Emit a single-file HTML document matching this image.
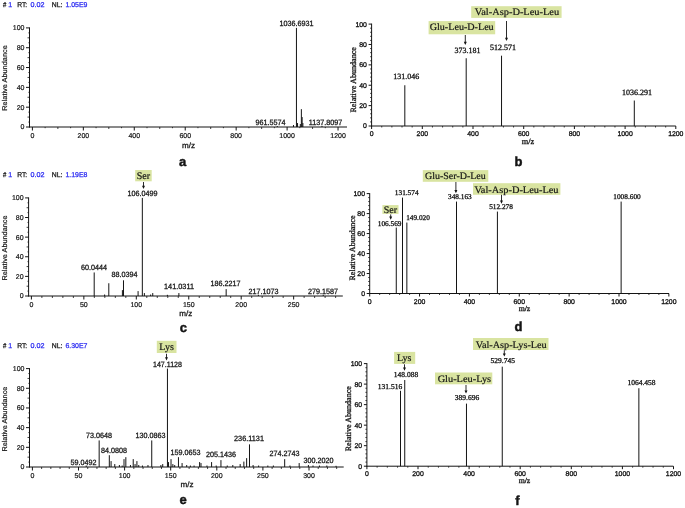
<!DOCTYPE html>
<html><head><meta charset="utf-8"><title>Mass spectra</title>
<style>
html,body{margin:0;padding:0;background:#fff;}
svg{display:block;text-rendering:geometricPrecision;}
.sans{font-family:"Liberation Sans", sans-serif;}
.serif{font-family:"Liberation Serif", serif;}
</style></head><body>
<svg width="685" height="508" viewBox="0 0 685 508" fill="#141414">
<rect width="685" height="508" fill="#fff"/>
<text class="sans" x="2.9" y="6.9" font-size="7" textLength="3.3" lengthAdjust="spacingAndGlyphs" stroke="#141414" stroke-width="0.25">#</text>
<text class="sans" x="8.3" y="6.9" font-size="7" fill="#2b2bf2" stroke="#2b2bf2" stroke-width="0.25">1</text>
<text class="sans" x="17.2" y="6.9" font-size="7" textLength="10" lengthAdjust="spacingAndGlyphs" stroke="#141414" stroke-width="0.25">RT:</text>
<text class="sans" x="30.4" y="6.9" font-size="7" textLength="14" lengthAdjust="spacingAndGlyphs" fill="#2b2bf2" stroke="#2b2bf2" stroke-width="0.25">0.02</text>
<text class="sans" x="51.8" y="6.9" font-size="7" textLength="10.6" lengthAdjust="spacingAndGlyphs" stroke="#141414" stroke-width="0.25">NL:</text>
<text class="sans" x="65.4" y="6.9" font-size="7" textLength="22" lengthAdjust="spacingAndGlyphs" fill="#2b2bf2" stroke="#2b2bf2" stroke-width="0.25">1.05E9</text>
<path d="M29.5 27.4L29.5 127.5" stroke="#141414" stroke-width="1.0"/>
<path d="M29 127L347 127" stroke="#141414" stroke-width="1.0"/>
<path d="M26 127L29.5 127" stroke="#141414" stroke-width="1.0"/>
<text class="sans" x="24.5" y="129.49" font-size="7" text-anchor="end" stroke="#141414" stroke-width="0.2">0</text>
<path d="M26 107.18L29.5 107.18" stroke="#141414" stroke-width="1.0"/>
<text class="sans" x="24.5" y="109.67" font-size="7" text-anchor="end" stroke="#141414" stroke-width="0.2">20</text>
<path d="M26 87.36L29.5 87.36" stroke="#141414" stroke-width="1.0"/>
<text class="sans" x="24.5" y="89.84" font-size="7" text-anchor="end" stroke="#141414" stroke-width="0.2">40</text>
<path d="M26 67.54L29.5 67.54" stroke="#141414" stroke-width="1.0"/>
<text class="sans" x="24.5" y="70.02" font-size="7" text-anchor="end" stroke="#141414" stroke-width="0.2">60</text>
<path d="M26 47.72L29.5 47.72" stroke="#141414" stroke-width="1.0"/>
<text class="sans" x="24.5" y="50.2" font-size="7" text-anchor="end" stroke="#141414" stroke-width="0.2">80</text>
<path d="M26 27.9L29.5 27.9" stroke="#141414" stroke-width="1.0"/>
<text class="sans" x="24.5" y="30.39" font-size="7" text-anchor="end" stroke="#141414" stroke-width="0.2">100</text>
<path d="M28.4 122.05L29.5 122.05" stroke="#141414" stroke-width="0.8"/>
<path d="M27.5 117.09L29.5 117.09" stroke="#141414" stroke-width="0.8"/>
<path d="M28.4 112.14L29.5 112.14" stroke="#141414" stroke-width="0.8"/>
<path d="M28.4 102.22L29.5 102.22" stroke="#141414" stroke-width="0.8"/>
<path d="M27.5 97.27L29.5 97.27" stroke="#141414" stroke-width="0.8"/>
<path d="M28.4 92.31L29.5 92.31" stroke="#141414" stroke-width="0.8"/>
<path d="M28.4 82.41L29.5 82.41" stroke="#141414" stroke-width="0.8"/>
<path d="M27.5 77.45L29.5 77.45" stroke="#141414" stroke-width="0.8"/>
<path d="M28.4 72.5L29.5 72.5" stroke="#141414" stroke-width="0.8"/>
<path d="M28.4 62.58L29.5 62.58" stroke="#141414" stroke-width="0.8"/>
<path d="M27.5 57.63L29.5 57.63" stroke="#141414" stroke-width="0.8"/>
<path d="M28.4 52.67L29.5 52.67" stroke="#141414" stroke-width="0.8"/>
<path d="M28.4 42.77L29.5 42.77" stroke="#141414" stroke-width="0.8"/>
<path d="M27.5 37.81L29.5 37.81" stroke="#141414" stroke-width="0.8"/>
<path d="M28.4 32.86L29.5 32.86" stroke="#141414" stroke-width="0.8"/>
<path d="M32.4 127L32.4 130.5" stroke="#141414" stroke-width="1.0"/>
<text class="sans" x="32.4" y="138.4" font-size="7" text-anchor="middle" stroke="#141414" stroke-width="0.2">0</text>
<path d="M83.34 127L83.34 130.5" stroke="#141414" stroke-width="1.0"/>
<text class="sans" x="83.34" y="138.4" font-size="7" text-anchor="middle" stroke="#141414" stroke-width="0.2">200</text>
<path d="M134.28 127L134.28 130.5" stroke="#141414" stroke-width="1.0"/>
<text class="sans" x="134.28" y="138.4" font-size="7" text-anchor="middle" stroke="#141414" stroke-width="0.2">400</text>
<path d="M185.22 127L185.22 130.5" stroke="#141414" stroke-width="1.0"/>
<text class="sans" x="185.22" y="138.4" font-size="7" text-anchor="middle" stroke="#141414" stroke-width="0.2">600</text>
<path d="M236.16 127L236.16 130.5" stroke="#141414" stroke-width="1.0"/>
<text class="sans" x="236.16" y="138.4" font-size="7" text-anchor="middle" stroke="#141414" stroke-width="0.2">800</text>
<path d="M287.1 127L287.1 130.5" stroke="#141414" stroke-width="1.0"/>
<text class="sans" x="287.1" y="138.4" font-size="7" text-anchor="middle" stroke="#141414" stroke-width="0.2">1000</text>
<path d="M338.04 127L338.04 130.5" stroke="#141414" stroke-width="1.0"/>
<text class="sans" x="338.04" y="138.4" font-size="7" text-anchor="middle" stroke="#141414" stroke-width="0.2">1200</text>
<path d="M57.87 127L57.87 129" stroke="#141414" stroke-width="0.8"/>
<path d="M108.81 127L108.81 129" stroke="#141414" stroke-width="0.8"/>
<path d="M159.75 127L159.75 129" stroke="#141414" stroke-width="0.8"/>
<path d="M210.69 127L210.69 129" stroke="#141414" stroke-width="0.8"/>
<path d="M261.63 127L261.63 129" stroke="#141414" stroke-width="0.8"/>
<path d="M312.57 127L312.57 129" stroke="#141414" stroke-width="0.8"/>
<path d="M45.13 127L45.13 128.2" stroke="#141414" stroke-width="0.8"/>
<path d="M70.6 127L70.6 128.2" stroke="#141414" stroke-width="0.8"/>
<path d="M96.07 127L96.07 128.2" stroke="#141414" stroke-width="0.8"/>
<path d="M121.54 127L121.54 128.2" stroke="#141414" stroke-width="0.8"/>
<path d="M147.01 127L147.01 128.2" stroke="#141414" stroke-width="0.8"/>
<path d="M172.48 127L172.48 128.2" stroke="#141414" stroke-width="0.8"/>
<path d="M197.95 127L197.95 128.2" stroke="#141414" stroke-width="0.8"/>
<path d="M223.42 127L223.42 128.2" stroke="#141414" stroke-width="0.8"/>
<path d="M248.89 127L248.89 128.2" stroke="#141414" stroke-width="0.8"/>
<path d="M274.36 127L274.36 128.2" stroke="#141414" stroke-width="0.8"/>
<path d="M299.83 127L299.83 128.2" stroke="#141414" stroke-width="0.8"/>
<path d="M325.3 127L325.3 128.2" stroke="#141414" stroke-width="0.8"/>
<text class="sans" x="7.3" y="78" font-size="7" text-anchor="middle" textLength="65.5" lengthAdjust="spacingAndGlyphs" stroke="#141414" stroke-width="0.2" transform="rotate(-90 7.3 78)">Relative Abundance</text>
<path d="M296.45 127L296.45 27.9" stroke="#141414" stroke-width="1.0"/>
<path d="M297.54 127L297.54 123.04" stroke="#141414" stroke-width="1.0"/>
<path d="M300.34 127L300.34 124.03" stroke="#141414" stroke-width="1.0"/>
<path d="M301.36 127L301.36 109.16" stroke="#141414" stroke-width="1.0"/>
<path d="M302.13 127L302.13 117.09" stroke="#141414" stroke-width="1.0"/>
<path d="M302.89 127L302.89 123.04" stroke="#141414" stroke-width="1.0"/>
<path d="M293.47 127L293.47 125.02" stroke="#141414" stroke-width="1.0"/>
<path d="M277.29 127L277.29 126.01" stroke="#141414" stroke-width="1.0"/>
<path d="M321.99 127L321.99 126.01" stroke="#141414" stroke-width="1.0"/>
<text class="sans" x="296.5" y="26.2" font-size="7.7" text-anchor="middle" textLength="34" lengthAdjust="spacingAndGlyphs" stroke="#141414" stroke-width="0.28">1036.6931</text>
<text class="sans" x="270.5" y="125" font-size="7.7" text-anchor="middle" textLength="30" lengthAdjust="spacingAndGlyphs" stroke="#141414" stroke-width="0.28">961.5574</text>
<text class="sans" x="325.5" y="125" font-size="7.7" text-anchor="middle" textLength="33.5" lengthAdjust="spacingAndGlyphs" stroke="#141414" stroke-width="0.28">1137.8097</text>
<text class="sans" x="188.5" y="147.5" font-size="7.7" text-anchor="middle" textLength="13" lengthAdjust="spacingAndGlyphs" stroke="#141414" stroke-width="0.28">m/z</text>
<text class="sans" x="182.7" y="165.6" font-size="13" text-anchor="middle" font-weight="bold" stroke="#141414" stroke-width="0.45">a</text>
<path d="M371.6 23.6L371.6 126.5" stroke="#141414" stroke-width="1.0"/>
<path d="M371.1 126L675.8 126" stroke="#141414" stroke-width="1.0"/>
<path d="M368.6 126L371.6 126" stroke="#141414" stroke-width="1.0"/>
<text class="sans" x="366.9" y="128.45" font-size="6.9" text-anchor="end" stroke="#141414" stroke-width="0.3">0</text>
<path d="M368.6 105.62L371.6 105.62" stroke="#141414" stroke-width="1.0"/>
<text class="sans" x="366.9" y="108.07" font-size="6.9" text-anchor="end" stroke="#141414" stroke-width="0.3">20</text>
<path d="M368.6 85.24L371.6 85.24" stroke="#141414" stroke-width="1.0"/>
<text class="sans" x="366.9" y="87.69" font-size="6.9" text-anchor="end" stroke="#141414" stroke-width="0.3">40</text>
<path d="M368.6 64.86L371.6 64.86" stroke="#141414" stroke-width="1.0"/>
<text class="sans" x="366.9" y="67.31" font-size="6.9" text-anchor="end" stroke="#141414" stroke-width="0.3">60</text>
<path d="M368.6 44.48L371.6 44.48" stroke="#141414" stroke-width="1.0"/>
<text class="sans" x="366.9" y="46.93" font-size="6.9" text-anchor="end" stroke="#141414" stroke-width="0.3">80</text>
<path d="M368.6 24.1L371.6 24.1" stroke="#141414" stroke-width="1.0"/>
<text class="sans" x="366.9" y="26.55" font-size="6.9" text-anchor="end" stroke="#141414" stroke-width="0.3">100</text>
<path d="M370.1 121.92L371.6 121.92" stroke="#141414" stroke-width="0.8"/>
<path d="M370.1 117.85L371.6 117.85" stroke="#141414" stroke-width="0.8"/>
<path d="M370.1 113.77L371.6 113.77" stroke="#141414" stroke-width="0.8"/>
<path d="M370.1 109.7L371.6 109.7" stroke="#141414" stroke-width="0.8"/>
<path d="M370.1 101.54L371.6 101.54" stroke="#141414" stroke-width="0.8"/>
<path d="M370.1 97.47L371.6 97.47" stroke="#141414" stroke-width="0.8"/>
<path d="M370.1 93.39L371.6 93.39" stroke="#141414" stroke-width="0.8"/>
<path d="M370.1 89.32L371.6 89.32" stroke="#141414" stroke-width="0.8"/>
<path d="M370.1 81.16L371.6 81.16" stroke="#141414" stroke-width="0.8"/>
<path d="M370.1 77.09L371.6 77.09" stroke="#141414" stroke-width="0.8"/>
<path d="M370.1 73.01L371.6 73.01" stroke="#141414" stroke-width="0.8"/>
<path d="M370.1 68.94L371.6 68.94" stroke="#141414" stroke-width="0.8"/>
<path d="M370.1 60.78L371.6 60.78" stroke="#141414" stroke-width="0.8"/>
<path d="M370.1 56.71L371.6 56.71" stroke="#141414" stroke-width="0.8"/>
<path d="M370.1 52.63L371.6 52.63" stroke="#141414" stroke-width="0.8"/>
<path d="M370.1 48.56L371.6 48.56" stroke="#141414" stroke-width="0.8"/>
<path d="M370.1 40.4L371.6 40.4" stroke="#141414" stroke-width="0.8"/>
<path d="M370.1 36.33L371.6 36.33" stroke="#141414" stroke-width="0.8"/>
<path d="M370.1 32.25L371.6 32.25" stroke="#141414" stroke-width="0.8"/>
<path d="M370.1 28.18L371.6 28.18" stroke="#141414" stroke-width="0.8"/>
<path d="M371.6 126L371.6 129" stroke="#141414" stroke-width="1.0"/>
<text class="sans" x="371.6" y="136.4" font-size="6.9" text-anchor="middle" stroke="#141414" stroke-width="0.3">0</text>
<path d="M422.3 126L422.3 129" stroke="#141414" stroke-width="1.0"/>
<text class="sans" x="422.3" y="136.4" font-size="6.9" text-anchor="middle" stroke="#141414" stroke-width="0.3">200</text>
<path d="M473 126L473 129" stroke="#141414" stroke-width="1.0"/>
<text class="sans" x="473" y="136.4" font-size="6.9" text-anchor="middle" stroke="#141414" stroke-width="0.3">400</text>
<path d="M523.7 126L523.7 129" stroke="#141414" stroke-width="1.0"/>
<text class="sans" x="523.7" y="136.4" font-size="6.9" text-anchor="middle" stroke="#141414" stroke-width="0.3">600</text>
<path d="M574.4 126L574.4 129" stroke="#141414" stroke-width="1.0"/>
<text class="sans" x="574.4" y="136.4" font-size="6.9" text-anchor="middle" stroke="#141414" stroke-width="0.3">800</text>
<path d="M625.1 126L625.1 129" stroke="#141414" stroke-width="1.0"/>
<text class="sans" x="625.1" y="136.4" font-size="6.9" text-anchor="middle" stroke="#141414" stroke-width="0.3">1000</text>
<path d="M675.8 126L675.8 129" stroke="#141414" stroke-width="1.0"/>
<text class="sans" x="675.8" y="136.4" font-size="6.9" text-anchor="middle" stroke="#141414" stroke-width="0.3">1200</text>
<path d="M381.74 126L381.74 127.5" stroke="#141414" stroke-width="0.8"/>
<path d="M391.88 126L391.88 127.5" stroke="#141414" stroke-width="0.8"/>
<path d="M402.02 126L402.02 127.5" stroke="#141414" stroke-width="0.8"/>
<path d="M412.16 126L412.16 127.5" stroke="#141414" stroke-width="0.8"/>
<path d="M432.44 126L432.44 127.5" stroke="#141414" stroke-width="0.8"/>
<path d="M442.58 126L442.58 127.5" stroke="#141414" stroke-width="0.8"/>
<path d="M452.72 126L452.72 127.5" stroke="#141414" stroke-width="0.8"/>
<path d="M462.86 126L462.86 127.5" stroke="#141414" stroke-width="0.8"/>
<path d="M483.14 126L483.14 127.5" stroke="#141414" stroke-width="0.8"/>
<path d="M493.28 126L493.28 127.5" stroke="#141414" stroke-width="0.8"/>
<path d="M503.42 126L503.42 127.5" stroke="#141414" stroke-width="0.8"/>
<path d="M513.56 126L513.56 127.5" stroke="#141414" stroke-width="0.8"/>
<path d="M533.84 126L533.84 127.5" stroke="#141414" stroke-width="0.8"/>
<path d="M543.98 126L543.98 127.5" stroke="#141414" stroke-width="0.8"/>
<path d="M554.12 126L554.12 127.5" stroke="#141414" stroke-width="0.8"/>
<path d="M564.26 126L564.26 127.5" stroke="#141414" stroke-width="0.8"/>
<path d="M584.54 126L584.54 127.5" stroke="#141414" stroke-width="0.8"/>
<path d="M594.68 126L594.68 127.5" stroke="#141414" stroke-width="0.8"/>
<path d="M604.82 126L604.82 127.5" stroke="#141414" stroke-width="0.8"/>
<path d="M614.96 126L614.96 127.5" stroke="#141414" stroke-width="0.8"/>
<path d="M635.24 126L635.24 127.5" stroke="#141414" stroke-width="0.8"/>
<path d="M645.38 126L645.38 127.5" stroke="#141414" stroke-width="0.8"/>
<path d="M655.52 126L655.52 127.5" stroke="#141414" stroke-width="0.8"/>
<path d="M665.66 126L665.66 127.5" stroke="#141414" stroke-width="0.8"/>
<text class="serif" x="355.9" y="79.8" font-size="8.2" text-anchor="middle" textLength="65.5" lengthAdjust="spacingAndGlyphs" stroke="#141414" stroke-width="0.3" transform="rotate(-90 355.9 79.8)">Relative Abundance</text>
<path d="M404.82 126L404.82 85.24" stroke="#141414" stroke-width="1.0"/>
<path d="M466.2 126L466.2 58.24" stroke="#141414" stroke-width="1.0"/>
<path d="M501.54 126L501.54 55.69" stroke="#141414" stroke-width="1.0"/>
<path d="M634.3 126L634.3 100.53" stroke="#141414" stroke-width="1.0"/>
<text class="serif" x="406.2" y="79.4" font-size="8" text-anchor="middle" stroke="#141414" stroke-width="0.3">131.046</text>
<text class="serif" x="467.4" y="53" font-size="8" text-anchor="middle" stroke="#141414" stroke-width="0.3">373.181</text>
<text class="serif" x="503" y="50" font-size="8" text-anchor="middle" stroke="#141414" stroke-width="0.3">512.571</text>
<text class="serif" x="636.9" y="94.8" font-size="8" text-anchor="middle" stroke="#141414" stroke-width="0.3">1036.291</text>
<rect x="428.6" y="21.1" width="66.6" height="13.2" fill="#d9e4a1"/>
<text class="serif" x="461.7" y="30.3" font-size="9.8" text-anchor="middle" textLength="64" lengthAdjust="spacingAndGlyphs" stroke="#141414" stroke-width="0.2">Glu-Leu-D-Leu</text>
<rect x="471.2" y="6.2" width="90.4" height="11.7" fill="#d9e4a1"/>
<text class="serif" x="517" y="15.2" font-size="9.8" text-anchor="middle" textLength="84.3" lengthAdjust="spacingAndGlyphs" stroke="#141414" stroke-width="0.2">Val-Asp-D-Leu-Leu</text>
<path d="M465.3 35L465.3 43.5" stroke="#141414" stroke-width="0.9"/>
<path d="M463.8 41.8L466.8 41.8L465.3 45Z" fill="#141414"/>
<path d="M506.5 21L506.5 39.5" stroke="#141414" stroke-width="0.9"/>
<path d="M505 37.8L508 37.8L506.5 41Z" fill="#141414"/>
<text class="serif" x="528" y="144" font-size="8.3" text-anchor="middle" stroke="#141414" stroke-width="0.3">m/z</text>
<text class="sans" x="518.5" y="165.8" font-size="13" text-anchor="middle" font-weight="bold" stroke="#141414" stroke-width="0.45">b</text>
<text class="sans" x="2.9" y="176.9" font-size="7" textLength="3.3" lengthAdjust="spacingAndGlyphs" stroke="#141414" stroke-width="0.25">#</text>
<text class="sans" x="8.3" y="176.9" font-size="7" fill="#2b2bf2" stroke="#2b2bf2" stroke-width="0.25">1</text>
<text class="sans" x="17.2" y="176.9" font-size="7" textLength="10" lengthAdjust="spacingAndGlyphs" stroke="#141414" stroke-width="0.25">RT:</text>
<text class="sans" x="30.4" y="176.9" font-size="7" textLength="14" lengthAdjust="spacingAndGlyphs" fill="#2b2bf2" stroke="#2b2bf2" stroke-width="0.25">0.02</text>
<text class="sans" x="51.8" y="176.9" font-size="7" textLength="10.6" lengthAdjust="spacingAndGlyphs" stroke="#141414" stroke-width="0.25">NL:</text>
<text class="sans" x="65.4" y="176.9" font-size="7" textLength="22" lengthAdjust="spacingAndGlyphs" fill="#2b2bf2" stroke="#2b2bf2" stroke-width="0.25">1.19E8</text>
<path d="M28.6 197.4L28.6 296.5" stroke="#141414" stroke-width="1.0"/>
<path d="M28.1 296L342.8 296" stroke="#141414" stroke-width="1.0"/>
<path d="M25.1 296L28.6 296" stroke="#141414" stroke-width="1.0"/>
<text class="sans" x="23.6" y="298.49" font-size="7" text-anchor="end" stroke="#141414" stroke-width="0.2">0</text>
<path d="M25.1 276.38L28.6 276.38" stroke="#141414" stroke-width="1.0"/>
<text class="sans" x="23.6" y="278.87" font-size="7" text-anchor="end" stroke="#141414" stroke-width="0.2">20</text>
<path d="M25.1 256.76L28.6 256.76" stroke="#141414" stroke-width="1.0"/>
<text class="sans" x="23.6" y="259.25" font-size="7" text-anchor="end" stroke="#141414" stroke-width="0.2">40</text>
<path d="M25.1 237.14L28.6 237.14" stroke="#141414" stroke-width="1.0"/>
<text class="sans" x="23.6" y="239.62" font-size="7" text-anchor="end" stroke="#141414" stroke-width="0.2">60</text>
<path d="M25.1 217.52L28.6 217.52" stroke="#141414" stroke-width="1.0"/>
<text class="sans" x="23.6" y="220" font-size="7" text-anchor="end" stroke="#141414" stroke-width="0.2">80</text>
<path d="M25.1 197.9L28.6 197.9" stroke="#141414" stroke-width="1.0"/>
<text class="sans" x="23.6" y="200.39" font-size="7" text-anchor="end" stroke="#141414" stroke-width="0.2">100</text>
<path d="M27.5 291.1L28.6 291.1" stroke="#141414" stroke-width="0.8"/>
<path d="M26.6 286.19L28.6 286.19" stroke="#141414" stroke-width="0.8"/>
<path d="M27.5 281.29L28.6 281.29" stroke="#141414" stroke-width="0.8"/>
<path d="M27.5 271.48L28.6 271.48" stroke="#141414" stroke-width="0.8"/>
<path d="M26.6 266.57L28.6 266.57" stroke="#141414" stroke-width="0.8"/>
<path d="M27.5 261.67L28.6 261.67" stroke="#141414" stroke-width="0.8"/>
<path d="M27.5 251.86L28.6 251.86" stroke="#141414" stroke-width="0.8"/>
<path d="M26.6 246.95L28.6 246.95" stroke="#141414" stroke-width="0.8"/>
<path d="M27.5 242.05L28.6 242.05" stroke="#141414" stroke-width="0.8"/>
<path d="M27.5 232.24L28.6 232.24" stroke="#141414" stroke-width="0.8"/>
<path d="M26.6 227.33L28.6 227.33" stroke="#141414" stroke-width="0.8"/>
<path d="M27.5 222.43L28.6 222.43" stroke="#141414" stroke-width="0.8"/>
<path d="M27.5 212.62L28.6 212.62" stroke="#141414" stroke-width="0.8"/>
<path d="M26.6 207.71L28.6 207.71" stroke="#141414" stroke-width="0.8"/>
<path d="M27.5 202.81L28.6 202.81" stroke="#141414" stroke-width="0.8"/>
<path d="M31.4 296L31.4 299.5" stroke="#141414" stroke-width="1.0"/>
<text class="sans" x="31.4" y="306.8" font-size="7" text-anchor="middle" stroke="#141414" stroke-width="0.2">0</text>
<path d="M83.85 296L83.85 299.5" stroke="#141414" stroke-width="1.0"/>
<text class="sans" x="83.85" y="306.8" font-size="7" text-anchor="middle" stroke="#141414" stroke-width="0.2">50</text>
<path d="M136.3 296L136.3 299.5" stroke="#141414" stroke-width="1.0"/>
<text class="sans" x="136.3" y="306.8" font-size="7" text-anchor="middle" stroke="#141414" stroke-width="0.2">100</text>
<path d="M188.75 296L188.75 299.5" stroke="#141414" stroke-width="1.0"/>
<text class="sans" x="188.75" y="306.8" font-size="7" text-anchor="middle" stroke="#141414" stroke-width="0.2">150</text>
<path d="M241.2 296L241.2 299.5" stroke="#141414" stroke-width="1.0"/>
<text class="sans" x="241.2" y="306.8" font-size="7" text-anchor="middle" stroke="#141414" stroke-width="0.2">200</text>
<path d="M293.65 296L293.65 299.5" stroke="#141414" stroke-width="1.0"/>
<text class="sans" x="293.65" y="306.8" font-size="7" text-anchor="middle" stroke="#141414" stroke-width="0.2">250</text>
<path d="M41.89 296L41.89 298" stroke="#141414" stroke-width="0.8"/>
<path d="M52.38 296L52.38 298" stroke="#141414" stroke-width="0.8"/>
<path d="M62.87 296L62.87 298" stroke="#141414" stroke-width="0.8"/>
<path d="M73.36 296L73.36 298" stroke="#141414" stroke-width="0.8"/>
<path d="M94.34 296L94.34 298" stroke="#141414" stroke-width="0.8"/>
<path d="M104.83 296L104.83 298" stroke="#141414" stroke-width="0.8"/>
<path d="M115.32 296L115.32 298" stroke="#141414" stroke-width="0.8"/>
<path d="M125.81 296L125.81 298" stroke="#141414" stroke-width="0.8"/>
<path d="M146.79 296L146.79 298" stroke="#141414" stroke-width="0.8"/>
<path d="M157.28 296L157.28 298" stroke="#141414" stroke-width="0.8"/>
<path d="M167.77 296L167.77 298" stroke="#141414" stroke-width="0.8"/>
<path d="M178.26 296L178.26 298" stroke="#141414" stroke-width="0.8"/>
<path d="M199.24 296L199.24 298" stroke="#141414" stroke-width="0.8"/>
<path d="M209.73 296L209.73 298" stroke="#141414" stroke-width="0.8"/>
<path d="M220.22 296L220.22 298" stroke="#141414" stroke-width="0.8"/>
<path d="M230.71 296L230.71 298" stroke="#141414" stroke-width="0.8"/>
<path d="M251.69 296L251.69 298" stroke="#141414" stroke-width="0.8"/>
<path d="M262.18 296L262.18 298" stroke="#141414" stroke-width="0.8"/>
<path d="M272.67 296L272.67 298" stroke="#141414" stroke-width="0.8"/>
<path d="M283.16 296L283.16 298" stroke="#141414" stroke-width="0.8"/>
<path d="M304.14 296L304.14 298" stroke="#141414" stroke-width="0.8"/>
<path d="M314.63 296L314.63 298" stroke="#141414" stroke-width="0.8"/>
<path d="M325.12 296L325.12 298" stroke="#141414" stroke-width="0.8"/>
<path d="M335.61 296L335.61 298" stroke="#141414" stroke-width="0.8"/>
<text class="sans" x="7.1" y="248" font-size="7" text-anchor="middle" textLength="65" lengthAdjust="spacingAndGlyphs" stroke="#141414" stroke-width="0.2" transform="rotate(-90 7.1 248)">Relative Abundance</text>
<path d="M94.2 296L94.2 272.46" stroke="#141414" stroke-width="1.0"/>
<path d="M108.8 296L108.8 283.25" stroke="#141414" stroke-width="1.0"/>
<path d="M123.49 296L123.49 280.3" stroke="#141414" stroke-width="1.0"/>
<path d="M122.4 296L122.4 290.11" stroke="#141414" stroke-width="1.0"/>
<path d="M138.09 296L138.09 291.1" stroke="#141414" stroke-width="1.0"/>
<path d="M142.33 296L142.33 197.9" stroke="#141414" stroke-width="1.0"/>
<path d="M144.37 296L144.37 293.06" stroke="#141414" stroke-width="1.0"/>
<path d="M152.74 296L152.74 293.06" stroke="#141414" stroke-width="1.0"/>
<path d="M150.64 296L150.64 294.53" stroke="#141414" stroke-width="1.0"/>
<path d="M178.89 296L178.89 293.06" stroke="#141414" stroke-width="1.0"/>
<path d="M226.17 296L226.17 289.13" stroke="#141414" stroke-width="1.0"/>
<path d="M258.38 296L258.38 294.82" stroke="#141414" stroke-width="1.0"/>
<path d="M323.23 296L323.23 294.82" stroke="#141414" stroke-width="1.0"/>
<path d="M104.62 296L104.62 294.53" stroke="#141414" stroke-width="1.0"/>
<path d="M167.38 296L167.38 294.82" stroke="#141414" stroke-width="1.0"/>
<text class="sans" x="142.5" y="195.5" font-size="7.7" text-anchor="middle" textLength="30" lengthAdjust="spacingAndGlyphs" stroke="#141414" stroke-width="0.28">106.0499</text>
<text class="sans" x="94" y="269.5" font-size="7.7" text-anchor="middle" textLength="26" lengthAdjust="spacingAndGlyphs" stroke="#141414" stroke-width="0.28">60.0444</text>
<text class="sans" x="124.5" y="276.8" font-size="7.7" text-anchor="middle" textLength="26" lengthAdjust="spacingAndGlyphs" stroke="#141414" stroke-width="0.28">88.0394</text>
<text class="sans" x="179" y="289" font-size="7.7" text-anchor="middle" textLength="30" lengthAdjust="spacingAndGlyphs" stroke="#141414" stroke-width="0.28">141.0311</text>
<text class="sans" x="225.5" y="286" font-size="7.7" text-anchor="middle" textLength="30" lengthAdjust="spacingAndGlyphs" stroke="#141414" stroke-width="0.28">186.2217</text>
<text class="sans" x="263.5" y="294" font-size="7.7" text-anchor="middle" textLength="30" lengthAdjust="spacingAndGlyphs" stroke="#141414" stroke-width="0.28">217.1073</text>
<text class="sans" x="323" y="294" font-size="7.7" text-anchor="middle" textLength="30" lengthAdjust="spacingAndGlyphs" stroke="#141414" stroke-width="0.28">279.1587</text>
<rect x="135.2" y="170" width="16.5" height="11.3" fill="#d9e4a1"/>
<text class="serif" x="143.4" y="179" font-size="10" text-anchor="middle" stroke="#141414" stroke-width="0.2">Ser</text>
<path d="M143.5 182L143.5 187.5" stroke="#141414" stroke-width="0.9"/>
<path d="M142 185.8L145 185.8L143.5 189Z" fill="#141414"/>
<text class="sans" x="185.7" y="316" font-size="7.7" text-anchor="middle" textLength="13" lengthAdjust="spacingAndGlyphs" stroke="#141414" stroke-width="0.28">m/z</text>
<text class="sans" x="183.4" y="332.1" font-size="13" text-anchor="middle" font-weight="bold" stroke="#141414" stroke-width="0.45">c</text>
<path d="M369.7 193.1L369.7 294" stroke="#141414" stroke-width="1.0"/>
<path d="M369.2 293.5L669 293.5" stroke="#141414" stroke-width="1.0"/>
<path d="M366.7 293.5L369.7 293.5" stroke="#141414" stroke-width="1.0"/>
<text class="sans" x="365" y="295.95" font-size="6.9" text-anchor="end" stroke="#141414" stroke-width="0.3">0</text>
<path d="M366.7 273.52L369.7 273.52" stroke="#141414" stroke-width="1.0"/>
<text class="sans" x="365" y="275.97" font-size="6.9" text-anchor="end" stroke="#141414" stroke-width="0.3">20</text>
<path d="M366.7 253.54L369.7 253.54" stroke="#141414" stroke-width="1.0"/>
<text class="sans" x="365" y="255.99" font-size="6.9" text-anchor="end" stroke="#141414" stroke-width="0.3">40</text>
<path d="M366.7 233.56L369.7 233.56" stroke="#141414" stroke-width="1.0"/>
<text class="sans" x="365" y="236.01" font-size="6.9" text-anchor="end" stroke="#141414" stroke-width="0.3">60</text>
<path d="M366.7 213.58L369.7 213.58" stroke="#141414" stroke-width="1.0"/>
<text class="sans" x="365" y="216.03" font-size="6.9" text-anchor="end" stroke="#141414" stroke-width="0.3">80</text>
<path d="M366.7 193.6L369.7 193.6" stroke="#141414" stroke-width="1.0"/>
<text class="sans" x="365" y="196.05" font-size="6.9" text-anchor="end" stroke="#141414" stroke-width="0.3">100</text>
<path d="M368.2 289.5L369.7 289.5" stroke="#141414" stroke-width="0.8"/>
<path d="M368.2 285.51L369.7 285.51" stroke="#141414" stroke-width="0.8"/>
<path d="M368.2 281.51L369.7 281.51" stroke="#141414" stroke-width="0.8"/>
<path d="M368.2 277.52L369.7 277.52" stroke="#141414" stroke-width="0.8"/>
<path d="M368.2 269.52L369.7 269.52" stroke="#141414" stroke-width="0.8"/>
<path d="M368.2 265.53L369.7 265.53" stroke="#141414" stroke-width="0.8"/>
<path d="M368.2 261.53L369.7 261.53" stroke="#141414" stroke-width="0.8"/>
<path d="M368.2 257.54L369.7 257.54" stroke="#141414" stroke-width="0.8"/>
<path d="M368.2 249.54L369.7 249.54" stroke="#141414" stroke-width="0.8"/>
<path d="M368.2 245.55L369.7 245.55" stroke="#141414" stroke-width="0.8"/>
<path d="M368.2 241.55L369.7 241.55" stroke="#141414" stroke-width="0.8"/>
<path d="M368.2 237.56L369.7 237.56" stroke="#141414" stroke-width="0.8"/>
<path d="M368.2 229.56L369.7 229.56" stroke="#141414" stroke-width="0.8"/>
<path d="M368.2 225.57L369.7 225.57" stroke="#141414" stroke-width="0.8"/>
<path d="M368.2 221.57L369.7 221.57" stroke="#141414" stroke-width="0.8"/>
<path d="M368.2 217.58L369.7 217.58" stroke="#141414" stroke-width="0.8"/>
<path d="M368.2 209.58L369.7 209.58" stroke="#141414" stroke-width="0.8"/>
<path d="M368.2 205.59L369.7 205.59" stroke="#141414" stroke-width="0.8"/>
<path d="M368.2 201.59L369.7 201.59" stroke="#141414" stroke-width="0.8"/>
<path d="M368.2 197.6L369.7 197.6" stroke="#141414" stroke-width="0.8"/>
<path d="M369.7 293.5L369.7 296.5" stroke="#141414" stroke-width="1.0"/>
<text class="sans" x="369.7" y="303.9" font-size="6.9" text-anchor="middle" stroke="#141414" stroke-width="0.3">0</text>
<path d="M419.56 293.5L419.56 296.5" stroke="#141414" stroke-width="1.0"/>
<text class="sans" x="419.56" y="303.9" font-size="6.9" text-anchor="middle" stroke="#141414" stroke-width="0.3">200</text>
<path d="M469.42 293.5L469.42 296.5" stroke="#141414" stroke-width="1.0"/>
<text class="sans" x="469.42" y="303.9" font-size="6.9" text-anchor="middle" stroke="#141414" stroke-width="0.3">400</text>
<path d="M519.28 293.5L519.28 296.5" stroke="#141414" stroke-width="1.0"/>
<text class="sans" x="519.28" y="303.9" font-size="6.9" text-anchor="middle" stroke="#141414" stroke-width="0.3">600</text>
<path d="M569.14 293.5L569.14 296.5" stroke="#141414" stroke-width="1.0"/>
<text class="sans" x="569.14" y="303.9" font-size="6.9" text-anchor="middle" stroke="#141414" stroke-width="0.3">800</text>
<path d="M619 293.5L619 296.5" stroke="#141414" stroke-width="1.0"/>
<text class="sans" x="619" y="303.9" font-size="6.9" text-anchor="middle" stroke="#141414" stroke-width="0.3">1000</text>
<path d="M668.86 293.5L668.86 296.5" stroke="#141414" stroke-width="1.0"/>
<text class="sans" x="668.86" y="303.9" font-size="6.9" text-anchor="middle" stroke="#141414" stroke-width="0.3">1200</text>
<path d="M379.67 293.5L379.67 295" stroke="#141414" stroke-width="0.8"/>
<path d="M389.64 293.5L389.64 295" stroke="#141414" stroke-width="0.8"/>
<path d="M399.62 293.5L399.62 295" stroke="#141414" stroke-width="0.8"/>
<path d="M409.59 293.5L409.59 295" stroke="#141414" stroke-width="0.8"/>
<path d="M429.53 293.5L429.53 295" stroke="#141414" stroke-width="0.8"/>
<path d="M439.5 293.5L439.5 295" stroke="#141414" stroke-width="0.8"/>
<path d="M449.48 293.5L449.48 295" stroke="#141414" stroke-width="0.8"/>
<path d="M459.45 293.5L459.45 295" stroke="#141414" stroke-width="0.8"/>
<path d="M479.39 293.5L479.39 295" stroke="#141414" stroke-width="0.8"/>
<path d="M489.36 293.5L489.36 295" stroke="#141414" stroke-width="0.8"/>
<path d="M499.34 293.5L499.34 295" stroke="#141414" stroke-width="0.8"/>
<path d="M509.31 293.5L509.31 295" stroke="#141414" stroke-width="0.8"/>
<path d="M529.25 293.5L529.25 295" stroke="#141414" stroke-width="0.8"/>
<path d="M539.22 293.5L539.22 295" stroke="#141414" stroke-width="0.8"/>
<path d="M549.2 293.5L549.2 295" stroke="#141414" stroke-width="0.8"/>
<path d="M559.17 293.5L559.17 295" stroke="#141414" stroke-width="0.8"/>
<path d="M579.11 293.5L579.11 295" stroke="#141414" stroke-width="0.8"/>
<path d="M589.08 293.5L589.08 295" stroke="#141414" stroke-width="0.8"/>
<path d="M599.06 293.5L599.06 295" stroke="#141414" stroke-width="0.8"/>
<path d="M609.03 293.5L609.03 295" stroke="#141414" stroke-width="0.8"/>
<path d="M628.97 293.5L628.97 295" stroke="#141414" stroke-width="0.8"/>
<path d="M638.94 293.5L638.94 295" stroke="#141414" stroke-width="0.8"/>
<path d="M648.92 293.5L648.92 295" stroke="#141414" stroke-width="0.8"/>
<path d="M658.89 293.5L658.89 295" stroke="#141414" stroke-width="0.8"/>
<text class="serif" x="354.5" y="248" font-size="8.2" text-anchor="middle" textLength="65" lengthAdjust="spacingAndGlyphs" stroke="#141414" stroke-width="0.3" transform="rotate(-90 354.5 248)">Relative Abundance</text>
<path d="M396.27 293.5L396.27 227.57" stroke="#141414" stroke-width="1.0"/>
<path d="M402.5 293.5L402.5 197.6" stroke="#141414" stroke-width="1.0"/>
<path d="M406.85 293.5L406.85 222.57" stroke="#141414" stroke-width="1.0"/>
<path d="M456.5 293.5L456.5 201.59" stroke="#141414" stroke-width="1.0"/>
<path d="M497.41 293.5L497.41 211.58" stroke="#141414" stroke-width="1.0"/>
<path d="M621.14 293.5L621.14 201.59" stroke="#141414" stroke-width="1.0"/>
<text class="serif" x="406.7" y="195" font-size="7.3" text-anchor="middle" stroke="#141414" stroke-width="0.3">131.574</text>
<text class="serif" x="389.6" y="225.9" font-size="7.3" text-anchor="middle" stroke="#141414" stroke-width="0.3">106.569</text>
<text class="serif" x="418" y="219.5" font-size="7.3" text-anchor="middle" stroke="#141414" stroke-width="0.3">149.020</text>
<text class="serif" x="459.9" y="199" font-size="7.3" text-anchor="middle" stroke="#141414" stroke-width="0.3">348.163</text>
<text class="serif" x="501" y="209" font-size="7.3" text-anchor="middle" stroke="#141414" stroke-width="0.3">512.278</text>
<text class="serif" x="627" y="199" font-size="7.3" text-anchor="middle" stroke="#141414" stroke-width="0.3">1008.600</text>
<rect x="422.8" y="170.1" width="65.5" height="11.7" fill="#d9e4a1"/>
<text class="serif" x="455.4" y="179" font-size="9.8" text-anchor="middle" textLength="60.8" lengthAdjust="spacingAndGlyphs" stroke="#141414" stroke-width="0.2">Glu-Ser-D-Leu</text>
<rect x="473" y="183.2" width="87.4" height="11.6" fill="#d9e4a1"/>
<text class="serif" x="516.5" y="192.5" font-size="9.8" text-anchor="middle" textLength="84" lengthAdjust="spacingAndGlyphs" stroke="#141414" stroke-width="0.2">Val-Asp-D-Leu-Leu</text>
<rect x="382.4" y="205.1" width="16.1" height="8.8" fill="#d9e4a1"/>
<text class="serif" x="390.4" y="212.7" font-size="10" text-anchor="middle" stroke="#141414" stroke-width="0.2">Ser</text>
<path d="M455.9 182L455.9 191.8" stroke="#141414" stroke-width="0.9"/>
<path d="M454.4 190.1L457.4 190.1L455.9 193.3Z" fill="#141414"/>
<path d="M501.5 194.8L501.5 202.3" stroke="#141414" stroke-width="0.9"/>
<path d="M500 200.6L503 200.6L501.5 203.8Z" fill="#141414"/>
<path d="M390.7 214.4L390.7 218.3" stroke="#141414" stroke-width="0.9"/>
<path d="M389.2 216.6L392.2 216.6L390.7 219.8Z" fill="#141414"/>
<text class="serif" x="524.5" y="311" font-size="7.8" text-anchor="middle" stroke="#141414" stroke-width="0.3">m/z</text>
<text class="sans" x="518.5" y="331" font-size="13" text-anchor="middle" font-weight="bold" stroke="#141414" stroke-width="0.45">d</text>
<text class="sans" x="2.9" y="347.6" font-size="7" textLength="3.3" lengthAdjust="spacingAndGlyphs" stroke="#141414" stroke-width="0.25">#</text>
<text class="sans" x="8.3" y="347.6" font-size="7" fill="#2b2bf2" stroke="#2b2bf2" stroke-width="0.25">1</text>
<text class="sans" x="17.2" y="347.6" font-size="7" textLength="10" lengthAdjust="spacingAndGlyphs" stroke="#141414" stroke-width="0.25">RT:</text>
<text class="sans" x="30.4" y="347.6" font-size="7" textLength="14" lengthAdjust="spacingAndGlyphs" fill="#2b2bf2" stroke="#2b2bf2" stroke-width="0.25">0.02</text>
<text class="sans" x="51.8" y="347.6" font-size="7" textLength="10.6" lengthAdjust="spacingAndGlyphs" stroke="#141414" stroke-width="0.25">NL:</text>
<text class="sans" x="65.4" y="347.6" font-size="7" textLength="22" lengthAdjust="spacingAndGlyphs" fill="#2b2bf2" stroke="#2b2bf2" stroke-width="0.25">6.30E7</text>
<path d="M29.5 368.1L29.5 467.5" stroke="#141414" stroke-width="1.0"/>
<path d="M29 467L343.7 467" stroke="#141414" stroke-width="1.0"/>
<path d="M26 467L29.5 467" stroke="#141414" stroke-width="1.0"/>
<text class="sans" x="24.5" y="469.49" font-size="7" text-anchor="end" stroke="#141414" stroke-width="0.2">0</text>
<path d="M26 447.32L29.5 447.32" stroke="#141414" stroke-width="1.0"/>
<text class="sans" x="24.5" y="449.81" font-size="7" text-anchor="end" stroke="#141414" stroke-width="0.2">20</text>
<path d="M26 427.64L29.5 427.64" stroke="#141414" stroke-width="1.0"/>
<text class="sans" x="24.5" y="430.12" font-size="7" text-anchor="end" stroke="#141414" stroke-width="0.2">40</text>
<path d="M26 407.96L29.5 407.96" stroke="#141414" stroke-width="1.0"/>
<text class="sans" x="24.5" y="410.45" font-size="7" text-anchor="end" stroke="#141414" stroke-width="0.2">60</text>
<path d="M26 388.28L29.5 388.28" stroke="#141414" stroke-width="1.0"/>
<text class="sans" x="24.5" y="390.77" font-size="7" text-anchor="end" stroke="#141414" stroke-width="0.2">80</text>
<path d="M26 368.6L29.5 368.6" stroke="#141414" stroke-width="1.0"/>
<text class="sans" x="24.5" y="371.09" font-size="7" text-anchor="end" stroke="#141414" stroke-width="0.2">100</text>
<path d="M28.4 462.08L29.5 462.08" stroke="#141414" stroke-width="0.8"/>
<path d="M27.5 457.16L29.5 457.16" stroke="#141414" stroke-width="0.8"/>
<path d="M28.4 452.24L29.5 452.24" stroke="#141414" stroke-width="0.8"/>
<path d="M28.4 442.4L29.5 442.4" stroke="#141414" stroke-width="0.8"/>
<path d="M27.5 437.48L29.5 437.48" stroke="#141414" stroke-width="0.8"/>
<path d="M28.4 432.56L29.5 432.56" stroke="#141414" stroke-width="0.8"/>
<path d="M28.4 422.72L29.5 422.72" stroke="#141414" stroke-width="0.8"/>
<path d="M27.5 417.8L29.5 417.8" stroke="#141414" stroke-width="0.8"/>
<path d="M28.4 412.88L29.5 412.88" stroke="#141414" stroke-width="0.8"/>
<path d="M28.4 403.04L29.5 403.04" stroke="#141414" stroke-width="0.8"/>
<path d="M27.5 398.12L29.5 398.12" stroke="#141414" stroke-width="0.8"/>
<path d="M28.4 393.2L29.5 393.2" stroke="#141414" stroke-width="0.8"/>
<path d="M28.4 383.36L29.5 383.36" stroke="#141414" stroke-width="0.8"/>
<path d="M27.5 378.44L29.5 378.44" stroke="#141414" stroke-width="0.8"/>
<path d="M28.4 373.52L29.5 373.52" stroke="#141414" stroke-width="0.8"/>
<path d="M32.4 467L32.4 470.5" stroke="#141414" stroke-width="1.0"/>
<text class="sans" x="32.4" y="478.1" font-size="7" text-anchor="middle" stroke="#141414" stroke-width="0.2">0</text>
<path d="M78.5 467L78.5 470.5" stroke="#141414" stroke-width="1.0"/>
<text class="sans" x="78.5" y="478.1" font-size="7" text-anchor="middle" stroke="#141414" stroke-width="0.2">50</text>
<path d="M124.6 467L124.6 470.5" stroke="#141414" stroke-width="1.0"/>
<text class="sans" x="124.6" y="478.1" font-size="7" text-anchor="middle" stroke="#141414" stroke-width="0.2">100</text>
<path d="M170.7 467L170.7 470.5" stroke="#141414" stroke-width="1.0"/>
<text class="sans" x="170.7" y="478.1" font-size="7" text-anchor="middle" stroke="#141414" stroke-width="0.2">150</text>
<path d="M216.8 467L216.8 470.5" stroke="#141414" stroke-width="1.0"/>
<text class="sans" x="216.8" y="478.1" font-size="7" text-anchor="middle" stroke="#141414" stroke-width="0.2">200</text>
<path d="M262.9 467L262.9 470.5" stroke="#141414" stroke-width="1.0"/>
<text class="sans" x="262.9" y="478.1" font-size="7" text-anchor="middle" stroke="#141414" stroke-width="0.2">250</text>
<path d="M309 467L309 470.5" stroke="#141414" stroke-width="1.0"/>
<text class="sans" x="309" y="478.1" font-size="7" text-anchor="middle" stroke="#141414" stroke-width="0.2">300</text>
<path d="M41.62 467L41.62 469" stroke="#141414" stroke-width="0.8"/>
<path d="M50.84 467L50.84 469" stroke="#141414" stroke-width="0.8"/>
<path d="M60.06 467L60.06 469" stroke="#141414" stroke-width="0.8"/>
<path d="M69.28 467L69.28 469" stroke="#141414" stroke-width="0.8"/>
<path d="M87.72 467L87.72 469" stroke="#141414" stroke-width="0.8"/>
<path d="M96.94 467L96.94 469" stroke="#141414" stroke-width="0.8"/>
<path d="M106.16 467L106.16 469" stroke="#141414" stroke-width="0.8"/>
<path d="M115.38 467L115.38 469" stroke="#141414" stroke-width="0.8"/>
<path d="M133.82 467L133.82 469" stroke="#141414" stroke-width="0.8"/>
<path d="M143.04 467L143.04 469" stroke="#141414" stroke-width="0.8"/>
<path d="M152.26 467L152.26 469" stroke="#141414" stroke-width="0.8"/>
<path d="M161.48 467L161.48 469" stroke="#141414" stroke-width="0.8"/>
<path d="M179.92 467L179.92 469" stroke="#141414" stroke-width="0.8"/>
<path d="M189.14 467L189.14 469" stroke="#141414" stroke-width="0.8"/>
<path d="M198.36 467L198.36 469" stroke="#141414" stroke-width="0.8"/>
<path d="M207.58 467L207.58 469" stroke="#141414" stroke-width="0.8"/>
<path d="M226.02 467L226.02 469" stroke="#141414" stroke-width="0.8"/>
<path d="M235.24 467L235.24 469" stroke="#141414" stroke-width="0.8"/>
<path d="M244.46 467L244.46 469" stroke="#141414" stroke-width="0.8"/>
<path d="M253.68 467L253.68 469" stroke="#141414" stroke-width="0.8"/>
<path d="M272.12 467L272.12 469" stroke="#141414" stroke-width="0.8"/>
<path d="M281.34 467L281.34 469" stroke="#141414" stroke-width="0.8"/>
<path d="M290.56 467L290.56 469" stroke="#141414" stroke-width="0.8"/>
<path d="M299.78 467L299.78 469" stroke="#141414" stroke-width="0.8"/>
<path d="M318.22 467L318.22 469" stroke="#141414" stroke-width="0.8"/>
<path d="M327.44 467L327.44 469" stroke="#141414" stroke-width="0.8"/>
<path d="M336.66 467L336.66 469" stroke="#141414" stroke-width="0.8"/>
<text class="sans" x="7.5" y="419.1" font-size="7" text-anchor="middle" textLength="65" lengthAdjust="spacingAndGlyphs" stroke="#141414" stroke-width="0.2" transform="rotate(-90 7.5 419.1)">Relative Abundance</text>
<path d="M86.2 467L86.2 465.52" stroke="#141414" stroke-width="1.0"/>
<path d="M99.16 467L99.16 440.43" stroke="#141414" stroke-width="1.0"/>
<path d="M109.32 467L109.32 455.19" stroke="#141414" stroke-width="1.0"/>
<path d="M111.09 467L111.09 461.1" stroke="#141414" stroke-width="1.0"/>
<path d="M114.78 467L114.78 464.05" stroke="#141414" stroke-width="1.0"/>
<path d="M119.39 467L119.39 465.03" stroke="#141414" stroke-width="1.0"/>
<path d="M122.16 467L122.16 465.52" stroke="#141414" stroke-width="1.0"/>
<path d="M124 467L124 459.13" stroke="#141414" stroke-width="1.0"/>
<path d="M125.84 467L125.84 457.16" stroke="#141414" stroke-width="1.0"/>
<path d="M130.45 467L130.45 465.03" stroke="#141414" stroke-width="1.0"/>
<path d="M133.22 467L133.22 459.13" stroke="#141414" stroke-width="1.0"/>
<path d="M135.06 467L135.06 464.05" stroke="#141414" stroke-width="1.0"/>
<path d="M136.91 467L136.91 461.1" stroke="#141414" stroke-width="1.0"/>
<path d="M138.75 467L138.75 465.03" stroke="#141414" stroke-width="1.0"/>
<path d="M142.44 467L142.44 465.52" stroke="#141414" stroke-width="1.0"/>
<path d="M147.97 467L147.97 465.03" stroke="#141414" stroke-width="1.0"/>
<path d="M151.74 467L151.74 440.43" stroke="#141414" stroke-width="1.0"/>
<path d="M160.88 467L160.88 465.03" stroke="#141414" stroke-width="1.0"/>
<path d="M162.72 467L162.72 464.05" stroke="#141414" stroke-width="1.0"/>
<path d="M167.44 467L167.44 368.6" stroke="#141414" stroke-width="1.0"/>
<path d="M168.53 467L168.53 462.08" stroke="#141414" stroke-width="1.0"/>
<path d="M171.02 467L171.02 459.13" stroke="#141414" stroke-width="1.0"/>
<path d="M172.87 467L172.87 464.05" stroke="#141414" stroke-width="1.0"/>
<path d="M174.71 467L174.71 465.03" stroke="#141414" stroke-width="1.0"/>
<path d="M178.46 467L178.46 457.16" stroke="#141414" stroke-width="1.0"/>
<path d="M182.09 467L182.09 463.06" stroke="#141414" stroke-width="1.0"/>
<path d="M186.7 467L186.7 465.03" stroke="#141414" stroke-width="1.0"/>
<path d="M190.38 467L190.38 465.52" stroke="#141414" stroke-width="1.0"/>
<path d="M194.07 467L194.07 465.52" stroke="#141414" stroke-width="1.0"/>
<path d="M199.6 467L199.6 462.08" stroke="#141414" stroke-width="1.0"/>
<path d="M200.99 467L200.99 463.06" stroke="#141414" stroke-width="1.0"/>
<path d="M206.98 467L206.98 465.52" stroke="#141414" stroke-width="1.0"/>
<path d="M211.59 467L211.59 462.08" stroke="#141414" stroke-width="1.0"/>
<path d="M216.2 467L216.2 465.52" stroke="#141414" stroke-width="1.0"/>
<path d="M220.94 467L220.94 460.11" stroke="#141414" stroke-width="1.0"/>
<path d="M227.26 467L227.26 465.52" stroke="#141414" stroke-width="1.0"/>
<path d="M232.8 467L232.8 465.03" stroke="#141414" stroke-width="1.0"/>
<path d="M240.17 467L240.17 464.05" stroke="#141414" stroke-width="1.0"/>
<path d="M243.86 467L243.86 461.59" stroke="#141414" stroke-width="1.0"/>
<path d="M246.63 467L246.63 458.14" stroke="#141414" stroke-width="1.0"/>
<path d="M249.49 467L249.49 444.37" stroke="#141414" stroke-width="1.0"/>
<path d="M253.08 467L253.08 465.03" stroke="#141414" stroke-width="1.0"/>
<path d="M258.61 467L258.61 465.52" stroke="#141414" stroke-width="1.0"/>
<path d="M267.83 467L267.83 465.52" stroke="#141414" stroke-width="1.0"/>
<path d="M273.36 467L273.36 465.52" stroke="#141414" stroke-width="1.0"/>
<path d="M284.68 467L284.68 459.13" stroke="#141414" stroke-width="1.0"/>
<path d="M289.96 467L289.96 465.52" stroke="#141414" stroke-width="1.0"/>
<path d="M299.18 467L299.18 463.06" stroke="#141414" stroke-width="1.0"/>
<path d="M308.4 467L308.4 465.03" stroke="#141414" stroke-width="1.0"/>
<path d="M313.01 467L313.01 465.52" stroke="#141414" stroke-width="1.0"/>
<path d="M319.46 467L319.46 465.52" stroke="#141414" stroke-width="1.0"/>
<path d="M326.84 467L326.84 465.52" stroke="#141414" stroke-width="1.0"/>
<path d="M336.06 467L336.06 465.82" stroke="#141414" stroke-width="1.0"/>
<text class="sans" x="167.5" y="366.9" font-size="7.7" text-anchor="middle" textLength="29" lengthAdjust="spacingAndGlyphs" stroke="#141414" stroke-width="0.28">147.1128</text>
<text class="sans" x="99" y="438" font-size="7.7" text-anchor="middle" textLength="26" lengthAdjust="spacingAndGlyphs" stroke="#141414" stroke-width="0.28">73.0648</text>
<text class="sans" x="114" y="453" font-size="7.7" text-anchor="middle" textLength="26" lengthAdjust="spacingAndGlyphs" stroke="#141414" stroke-width="0.28">84.0808</text>
<text class="sans" x="150.5" y="438" font-size="7.7" text-anchor="middle" textLength="30" lengthAdjust="spacingAndGlyphs" stroke="#141414" stroke-width="0.28">130.0863</text>
<text class="sans" x="83.5" y="465" font-size="7.7" text-anchor="middle" textLength="26" lengthAdjust="spacingAndGlyphs" stroke="#141414" stroke-width="0.28">59.0492</text>
<text class="sans" x="185.5" y="454.5" font-size="7.7" text-anchor="middle" textLength="30" lengthAdjust="spacingAndGlyphs" stroke="#141414" stroke-width="0.28">159.0653</text>
<text class="sans" x="221" y="457" font-size="7.7" text-anchor="middle" textLength="30" lengthAdjust="spacingAndGlyphs" stroke="#141414" stroke-width="0.28">205.1436</text>
<text class="sans" x="249" y="441" font-size="7.7" text-anchor="middle" textLength="30" lengthAdjust="spacingAndGlyphs" stroke="#141414" stroke-width="0.28">236.1131</text>
<text class="sans" x="284.5" y="456" font-size="7.7" text-anchor="middle" textLength="30" lengthAdjust="spacingAndGlyphs" stroke="#141414" stroke-width="0.28">274.2743</text>
<text class="sans" x="318.5" y="462.5" font-size="7.7" text-anchor="middle" textLength="30" lengthAdjust="spacingAndGlyphs" stroke="#141414" stroke-width="0.28">300.2020</text>
<rect x="156.8" y="340.8" width="19.7" height="12.2" fill="#d9e4a1"/>
<text class="serif" x="166.6" y="349.5" font-size="10" text-anchor="middle" stroke="#141414" stroke-width="0.2">Lys</text>
<path d="M166.5 353.8L166.5 359" stroke="#141414" stroke-width="0.9"/>
<path d="M165 357.3L168 357.3L166.5 360.5Z" fill="#141414"/>
<text class="sans" x="187" y="486.5" font-size="7.7" text-anchor="middle" textLength="13" lengthAdjust="spacingAndGlyphs" stroke="#141414" stroke-width="0.28">m/z</text>
<text class="sans" x="183" y="504.3" font-size="13" text-anchor="middle" font-weight="bold" stroke="#141414" stroke-width="0.45">e</text>
<path d="M366.9 363.1L366.9 466.7" stroke="#141414" stroke-width="1.0"/>
<path d="M366.4 466.2L673.3 466.2" stroke="#141414" stroke-width="1.0"/>
<path d="M363.9 466.2L366.9 466.2" stroke="#141414" stroke-width="1.0"/>
<text class="sans" x="362.2" y="468.65" font-size="6.9" text-anchor="end" stroke="#141414" stroke-width="0.3">0</text>
<path d="M363.9 445.68L366.9 445.68" stroke="#141414" stroke-width="1.0"/>
<text class="sans" x="362.2" y="448.13" font-size="6.9" text-anchor="end" stroke="#141414" stroke-width="0.3">20</text>
<path d="M363.9 425.16L366.9 425.16" stroke="#141414" stroke-width="1.0"/>
<text class="sans" x="362.2" y="427.61" font-size="6.9" text-anchor="end" stroke="#141414" stroke-width="0.3">40</text>
<path d="M363.9 404.64L366.9 404.64" stroke="#141414" stroke-width="1.0"/>
<text class="sans" x="362.2" y="407.09" font-size="6.9" text-anchor="end" stroke="#141414" stroke-width="0.3">60</text>
<path d="M363.9 384.12L366.9 384.12" stroke="#141414" stroke-width="1.0"/>
<text class="sans" x="362.2" y="386.57" font-size="6.9" text-anchor="end" stroke="#141414" stroke-width="0.3">80</text>
<path d="M363.9 363.6L366.9 363.6" stroke="#141414" stroke-width="1.0"/>
<text class="sans" x="362.2" y="366.05" font-size="6.9" text-anchor="end" stroke="#141414" stroke-width="0.3">100</text>
<path d="M365.4 462.1L366.9 462.1" stroke="#141414" stroke-width="0.8"/>
<path d="M365.4 457.99L366.9 457.99" stroke="#141414" stroke-width="0.8"/>
<path d="M365.4 453.89L366.9 453.89" stroke="#141414" stroke-width="0.8"/>
<path d="M365.4 449.78L366.9 449.78" stroke="#141414" stroke-width="0.8"/>
<path d="M365.4 441.58L366.9 441.58" stroke="#141414" stroke-width="0.8"/>
<path d="M365.4 437.47L366.9 437.47" stroke="#141414" stroke-width="0.8"/>
<path d="M365.4 433.37L366.9 433.37" stroke="#141414" stroke-width="0.8"/>
<path d="M365.4 429.26L366.9 429.26" stroke="#141414" stroke-width="0.8"/>
<path d="M365.4 421.06L366.9 421.06" stroke="#141414" stroke-width="0.8"/>
<path d="M365.4 416.95L366.9 416.95" stroke="#141414" stroke-width="0.8"/>
<path d="M365.4 412.85L366.9 412.85" stroke="#141414" stroke-width="0.8"/>
<path d="M365.4 408.74L366.9 408.74" stroke="#141414" stroke-width="0.8"/>
<path d="M365.4 400.54L366.9 400.54" stroke="#141414" stroke-width="0.8"/>
<path d="M365.4 396.43L366.9 396.43" stroke="#141414" stroke-width="0.8"/>
<path d="M365.4 392.33L366.9 392.33" stroke="#141414" stroke-width="0.8"/>
<path d="M365.4 388.22L366.9 388.22" stroke="#141414" stroke-width="0.8"/>
<path d="M365.4 380.02L366.9 380.02" stroke="#141414" stroke-width="0.8"/>
<path d="M365.4 375.91L366.9 375.91" stroke="#141414" stroke-width="0.8"/>
<path d="M365.4 371.81L366.9 371.81" stroke="#141414" stroke-width="0.8"/>
<path d="M365.4 367.7L366.9 367.7" stroke="#141414" stroke-width="0.8"/>
<path d="M366.9 466.2L366.9 469.2" stroke="#141414" stroke-width="1.0"/>
<text class="sans" x="366.9" y="476.4" font-size="6.9" text-anchor="middle" stroke="#141414" stroke-width="0.3">0</text>
<path d="M418 466.2L418 469.2" stroke="#141414" stroke-width="1.0"/>
<text class="sans" x="418" y="476.4" font-size="6.9" text-anchor="middle" stroke="#141414" stroke-width="0.3">200</text>
<path d="M469.1 466.2L469.1 469.2" stroke="#141414" stroke-width="1.0"/>
<text class="sans" x="469.1" y="476.4" font-size="6.9" text-anchor="middle" stroke="#141414" stroke-width="0.3">400</text>
<path d="M520.2 466.2L520.2 469.2" stroke="#141414" stroke-width="1.0"/>
<text class="sans" x="520.2" y="476.4" font-size="6.9" text-anchor="middle" stroke="#141414" stroke-width="0.3">600</text>
<path d="M571.3 466.2L571.3 469.2" stroke="#141414" stroke-width="1.0"/>
<text class="sans" x="571.3" y="476.4" font-size="6.9" text-anchor="middle" stroke="#141414" stroke-width="0.3">800</text>
<path d="M622.4 466.2L622.4 469.2" stroke="#141414" stroke-width="1.0"/>
<text class="sans" x="622.4" y="476.4" font-size="6.9" text-anchor="middle" stroke="#141414" stroke-width="0.3">1000</text>
<path d="M673.5 466.2L673.5 469.2" stroke="#141414" stroke-width="1.0"/>
<text class="sans" x="673.5" y="476.4" font-size="6.9" text-anchor="middle" stroke="#141414" stroke-width="0.3">1200</text>
<path d="M377.12 466.2L377.12 467.7" stroke="#141414" stroke-width="0.8"/>
<path d="M387.34 466.2L387.34 467.7" stroke="#141414" stroke-width="0.8"/>
<path d="M397.56 466.2L397.56 467.7" stroke="#141414" stroke-width="0.8"/>
<path d="M407.78 466.2L407.78 467.7" stroke="#141414" stroke-width="0.8"/>
<path d="M428.22 466.2L428.22 467.7" stroke="#141414" stroke-width="0.8"/>
<path d="M438.44 466.2L438.44 467.7" stroke="#141414" stroke-width="0.8"/>
<path d="M448.66 466.2L448.66 467.7" stroke="#141414" stroke-width="0.8"/>
<path d="M458.88 466.2L458.88 467.7" stroke="#141414" stroke-width="0.8"/>
<path d="M479.32 466.2L479.32 467.7" stroke="#141414" stroke-width="0.8"/>
<path d="M489.54 466.2L489.54 467.7" stroke="#141414" stroke-width="0.8"/>
<path d="M499.76 466.2L499.76 467.7" stroke="#141414" stroke-width="0.8"/>
<path d="M509.98 466.2L509.98 467.7" stroke="#141414" stroke-width="0.8"/>
<path d="M530.42 466.2L530.42 467.7" stroke="#141414" stroke-width="0.8"/>
<path d="M540.64 466.2L540.64 467.7" stroke="#141414" stroke-width="0.8"/>
<path d="M550.86 466.2L550.86 467.7" stroke="#141414" stroke-width="0.8"/>
<path d="M561.08 466.2L561.08 467.7" stroke="#141414" stroke-width="0.8"/>
<path d="M581.52 466.2L581.52 467.7" stroke="#141414" stroke-width="0.8"/>
<path d="M591.74 466.2L591.74 467.7" stroke="#141414" stroke-width="0.8"/>
<path d="M601.96 466.2L601.96 467.7" stroke="#141414" stroke-width="0.8"/>
<path d="M612.18 466.2L612.18 467.7" stroke="#141414" stroke-width="0.8"/>
<path d="M632.62 466.2L632.62 467.7" stroke="#141414" stroke-width="0.8"/>
<path d="M642.84 466.2L642.84 467.7" stroke="#141414" stroke-width="0.8"/>
<path d="M653.06 466.2L653.06 467.7" stroke="#141414" stroke-width="0.8"/>
<path d="M663.28 466.2L663.28 467.7" stroke="#141414" stroke-width="0.8"/>
<text class="serif" x="350.7" y="418.7" font-size="8.2" text-anchor="middle" textLength="65.2" lengthAdjust="spacingAndGlyphs" stroke="#141414" stroke-width="0.3" transform="rotate(-90 350.7 418.7)">Relative Abundance</text>
<path d="M400.5 466.2L400.5 390.79" stroke="#141414" stroke-width="1.0"/>
<path d="M404.74 466.2L404.74 380.02" stroke="#141414" stroke-width="1.0"/>
<path d="M466.47 466.2L466.47 403.61" stroke="#141414" stroke-width="1.0"/>
<path d="M502.25 466.2L502.25 366.68" stroke="#141414" stroke-width="1.0"/>
<path d="M638.87 466.2L638.87 388.22" stroke="#141414" stroke-width="1.0"/>
<text class="serif" x="390" y="388.6" font-size="7.5" text-anchor="middle" stroke="#141414" stroke-width="0.3">131.516</text>
<text class="serif" x="406" y="376.8" font-size="7.5" text-anchor="middle" stroke="#141414" stroke-width="0.3">148.088</text>
<text class="serif" x="467" y="399.6" font-size="7.5" text-anchor="middle" stroke="#141414" stroke-width="0.3">389.696</text>
<text class="serif" x="502.8" y="363.1" font-size="7.5" text-anchor="middle" stroke="#141414" stroke-width="0.3">529.745</text>
<text class="serif" x="641.5" y="385" font-size="7.5" text-anchor="middle" stroke="#141414" stroke-width="0.3">1064.458</text>
<rect x="394.1" y="351.9" width="21.1" height="12" fill="#d9e4a1"/>
<text class="serif" x="404.2" y="360.7" font-size="10" text-anchor="middle" stroke="#141414" stroke-width="0.2">Lys</text>
<rect x="435" y="372.5" width="57.3" height="11.8" fill="#d9e4a1"/>
<text class="serif" x="464.4" y="382" font-size="9.8" text-anchor="middle" textLength="53.5" lengthAdjust="spacingAndGlyphs" stroke="#141414" stroke-width="0.2">Glu-Leu-Lys</text>
<rect x="473" y="338" width="75.5" height="12" fill="#d9e4a1"/>
<text class="serif" x="511.2" y="347.5" font-size="9.8" text-anchor="middle" textLength="71.1" lengthAdjust="spacingAndGlyphs" stroke="#141414" stroke-width="0.2">Val-Asp-Lys-Leu</text>
<path d="M404.5 364.3L404.5 369.3" stroke="#141414" stroke-width="0.9"/>
<path d="M403 367.6L406 367.6L404.5 370.8Z" fill="#141414"/>
<path d="M466 385L466 392.1" stroke="#141414" stroke-width="0.9"/>
<path d="M464.5 390.4L467.5 390.4L466 393.6Z" fill="#141414"/>
<path d="M504.3 350.3L504.3 355.1" stroke="#141414" stroke-width="0.9"/>
<path d="M502.8 353.4L505.8 353.4L504.3 356.6Z" fill="#141414"/>
<text class="serif" x="524.5" y="483" font-size="7.8" text-anchor="middle" stroke="#141414" stroke-width="0.3">m/z</text>
<text class="sans" x="517.5" y="504.5" font-size="13" text-anchor="middle" font-weight="bold" stroke="#141414" stroke-width="0.45">f</text>
</svg>
</body></html>
